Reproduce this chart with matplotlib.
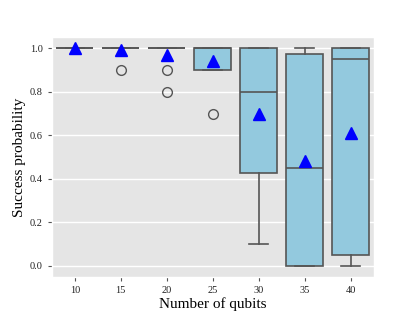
import matplotlib
matplotlib.use("Agg")
import matplotlib.pyplot as plt

plt.style.use("ggplot")
plt.rcParams['font.family'] = ['Liberation Serif', 'DejaVu Serif']

qubits = ['10', '15', '20', '25', '30', '35', '40']
q1 = [1.0, 1.0, 1.0, 0.9, 0.425, 0.0, 0.05]
med = [1.0, 1.0, 1.0, 1.0, 0.8, 0.45, 0.95]
q3 = [1.0, 1.0, 1.0, 1.0, 1.0, 0.975, 1.0]
whislo = [1.0, 1.0, 1.0, 0.9, 0.1, 0.0, 0.0]
whishi = [1.0, 1.0, 1.0, 1.0, 1.0, 1.0, 1.0]
fliers = [[], [0.9], [0.9, 0.8], [0.7], [], [], []]
means = [1.0, 0.99, 0.97, 0.94, 0.70, 0.48, 0.61]

stats = []
for i in range(len(qubits)):
    stats.append(dict(label=qubits[i], q1=q1[i], med=med[i], q3=q3[i],
                      whislo=whislo[i], whishi=whishi[i],
                      fliers=fliers[i], mean=means[i]))

fig, ax = plt.subplots(figsize=(4.15, 3.11), dpi=100)
edge = '#555555'
ax.bxp(stats, positions=range(len(qubits)), widths=0.8, patch_artist=True,
       showmeans=True,
       boxprops=dict(facecolor='#93C9DE', edgecolor=edge, linewidth=1.2),
       medianprops=dict(color=edge, linewidth=1.2),
       whiskerprops=dict(color=edge, linewidth=1.2),
       capprops=dict(color=edge, linewidth=1.2),
       flierprops=dict(marker='o', markerfacecolor='none', markeredgecolor=edge,
                       markersize=7, markeredgewidth=1.0),
       meanprops=dict(marker='^', markerfacecolor='blue', markeredgecolor='blue',
                      markersize=8))
ax.set_xlim(-0.5, 6.5)
ax.set_ylim(-0.05, 1.05)
ax.set_yticks([0.0, 0.2, 0.4, 0.6, 0.8, 1.0])
ax.set_yticklabels(['0.0', '0.2', '0.4', '0.6', '0.8', '1.0'])
ax.grid(axis='x', visible=False)
ax.grid(axis='y', color='white', linewidth=1.0)
ax.set_axisbelow(True)
ax.tick_params(labelsize=7.5, colors='#555555', labelcolor='#222222', length=3)
ax.set_xlabel('Number of qubits', fontsize=11, color='black', labelpad=2)
ax.set_ylabel('Success probability', fontsize=11, color='black', labelpad=3)
fig.subplots_adjust(left=0.125, right=0.9, bottom=0.11, top=0.88)
fig.savefig('out.png', dpi=100)
